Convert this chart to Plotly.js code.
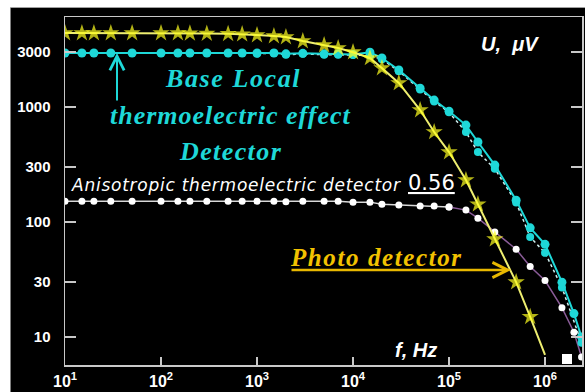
<!DOCTYPE html>
<html>
<head>
<meta charset="utf-8">
<script src="https://cdn.plot.ly/plotly-3.0.1.min.js"></script>
<style>html,body{margin:0;padding:0;background:#fff;}#chart{width:585px;height:392px;}</style>
</head>
<body>
<div id="chart"></div>
<script>
// ---- data ----
const freq = [10,15,20,30,50,100,150,200,300,500,700,1000,1500,2000,3000,5000,7000,1e4,1.5e4,2e4,3e4,5e4,7e4,1e5,1.5e5,2e5,3e5,5e5,7e5,1e6];
const photoU = [4400,4400,4400,4400,4400,4400,4400,4380,4350,4330,4300,4230,4140,4060,3750,3460,3260,3000,2670,2180,1620,942,607,406,232,143,71,30,15,7];

const baseFreq = [10,15,20,30,50,100,150,200,300,500,700,1000,1500,2000,3000,5000,7000,1e4,1.5e4,2e4,3e4,5e4,7e4,1e5,1.5e5,2e5,3e5,5e5,7e5,1e6,1.5e6,2e6,2.4e6];
const baseU = [2950,2950,2950,2950,2950,2950,2950,2950,2950,2950,2950,2950,2950,2900,2930,2900,2900,2870,3000,2670,2100,1460,1150,920,697,497,313,155,89,64,30,16,10];

const base2Freq = [1000,1500,2000,3000,5000,7000,1e4,1.5e4,2e4,3e4,5e4,7e4,1e5,1.5e5,2e5,3e5,5e5,7e5,1e6,1.5e6,2.4e6];
const base2U = [2900,2950,2850,2900,2850,2850,2830,2800,2600,2050,1420,1120,900,606,406,290,148,74,54,27,8.9];

const anisoFreq = [10,15,20,30,50,100,150,200,300,500,700,1000,1500,2000,3000,5000,7000,1e4,1.5e4,2e4,3e4,5e4,7e4,1e5];
const anisoU = [152,152,152,152,152,152,152,152,152,152,152,152,152,150,152,152,152,149,149,143,141,138,138,135];
const anisoTailFreq = [1e5,1.5e5,2e5,3e5,5e5,7e5,1e6,1.5e6,2e6,2.4e6];
const anisoTailU = [135,127,108,82,58,41,31,18,11,6.7];

const xTickVals = [10,100,1000,10000,100000,1000000];
const xTickText = ['10<sup>1</sup>','10<sup>2</sup>','10<sup>3</sup>','10<sup>4</sup>','10<sup>5</sup>','10<sup>6</sup>'];
const yTickVals = [10,30,100,300,1000,3000];
const yTickText = ['10','30','100','300','1000','3000'];

// ---- layout helpers (pixel -> paper) ----
const L = 65, R = 582, T = 17, B = 365;
const px = x => (x - L) / (R - L);
const py = y => (B - y) / (B - T);

const cyan = '#1ed8d8';
const yellow = '#ffff20';
const SANS = "'Liberation Sans', Arial, sans-serif";
const SERIF = "'Liberation Serif', 'Times New Roman', serif";
const DEJAVU = "'DejaVu Sans', Verdana, sans-serif";
const sp = (t, s) => '<span style="letter-spacing:' + s + 'px">' + t + '</span>';

const traces = [
  {x: anisoFreq, y: anisoU, type: 'scatter', mode: 'lines+markers',
   line: {color: '#d8d8d8', width: 1.5}, marker: {symbol: 'circle', size: 7, color: '#ffffff'}},
  {x: anisoTailFreq, y: anisoTailU, type: 'scatter', mode: 'lines+markers',
   line: {color: '#8a5c98', width: 1.5}, marker: {symbol: 'circle', size: 7, color: '#ffffff'}},
  {x: base2Freq, y: base2U, type: 'scatter', mode: 'lines+markers',
   line: {color: '#d0f0f0', width: 1.5, dash: 'dot'}, marker: {symbol: 'circle', size: 8, color: cyan}},
  {x: baseFreq, y: baseU, type: 'scatter', mode: 'lines+markers',
   line: {color: cyan, width: 2}, marker: {symbol: 'circle', size: 9, color: cyan}},
  {x: freq, y: photoU, type: 'scatter', mode: 'lines+markers',
   line: {color: '#eeee70', width: 2},
   marker: {symbol: 'star', size: photoU.map((v, i) => i === photoU.length - 1 ? 0 : 13), color: yellow,
            line: {width: 0}}}
];

const tickFont = {family: SANS, size: 15, color: '#ffffff', weight: 'bold'};
const xTickFont = {family: SANS, size: 16, color: '#ffffff', weight: 'bold'};
const cyanFont = {family: SERIF, size: 26, color: cyan, weight: 'bold', style: 'italic'};

function note(x, y, text, font, xanchor) {
  return {xref: 'paper', yref: 'paper', x: px(x), y: py(y), text: text, showarrow: false,
          xanchor: xanchor || 'center', yanchor: 'middle', font: font};
}

const layout = {
  width: 585, height: 392,
  margin: {l: L, r: 585 - R, t: T, b: 392 - B, pad: 0},
  paper_bgcolor: '#000000', plot_bgcolor: '#000000',
  showlegend: false,
  xaxis: {type: 'log', range: [1, 6.385], showgrid: false, zeroline: false,
          showline: true, linecolor: '#c8c8c8', linewidth: 1.5, mirror: true,
          ticks: 'inside', ticklen: 8, tickwidth: 1.5, tickcolor: '#c8c8c8',
          tickmode: 'array', tickvals: xTickVals, ticktext: xTickText,
          tickfont: xTickFont, ticklabelstandoff: 1},
  yaxis: {type: 'log', range: [0.757, 3.783], showgrid: false, zeroline: false,
          showline: true, linecolor: '#c8c8c8', linewidth: 1.5, mirror: 'ticks',
          ticks: 'inside', ticklen: 11, tickwidth: 1.5, tickcolor: '#c8c8c8',
          tickmode: 'array', tickvals: yTickVals, ticktext: yTickText,
          tickfont: tickFont, ticklabelstandoff: 10},
  shapes: [
    {type: 'rect', xref: 'paper', yref: 'paper', x0: px(-5), x1: px(600), y0: py(7.5), y1: py(-5),
     fillcolor: '#ffffff', line: {width: 0}, layer: 'above'},
    {type: 'rect', xref: 'paper', yref: 'paper', x0: px(-5), x1: px(10.5), y0: py(400), y1: py(-5),
     fillcolor: '#ffffff', line: {width: 0}, layer: 'above'},
    {type: 'line', xref: 'paper', yref: 'paper', x0: px(10.5), x1: px(600), y0: py(7.5), y1: py(7.5),
     line: {color: '#a0a0a0', width: 1}, layer: 'above'},
    {type: 'rect', xref: 'paper', yref: 'paper', x0: px(562), x1: px(572), y0: py(364), y1: py(354),
     fillcolor: '#ffffff', line: {width: 0}, layer: 'above'}
  ],
  annotations: [
    note(510, 44, 'U,  <i>μ</i>V', {family: SANS, size: 20, color: '#ffffff', weight: 'bold', style: 'italic'}),
    note(416, 350, 'f, Hz', {family: SANS, size: 20, color: '#ffffff', weight: 'bold', style: 'italic'}),
    note(233, 78, sp('Base Local', 1.6), cyanFont),
    note(230, 115, sp('thermoelectric effect', 1.0), cyanFont),
    note(230, 151, sp('Detector', 1.4), cyanFont),
    note(69, 185, sp('Anisotropic thermoelectric detector', 0.75), {family: DEJAVU, size: 17, color: '#ffffff', style: 'italic'}, 'left'),
    note(406, 183, '<u>0.56</u>', {family: DEJAVU, size: 21, color: '#ffffff'}, 'left'),
    note(376, 257, sp('Photo detector', 1.6), {family: SERIF, size: 25, color: '#f2c200', weight: 'bold', style: 'italic'}),
    {xref: 'paper', yref: 'paper', x: px(511), y: py(270), text: '', showarrow: true,
     axref: 'pixel', ayref: 'pixel', ax: -221, ay: 0, arrowhead: 5, arrowsize: 1.2, arrowwidth: 2.5, arrowcolor: '#e8b800'},
    {xref: 'paper', yref: 'paper', x: px(117), y: py(53), text: '', showarrow: true,
     axref: 'pixel', ayref: 'pixel', ax: 0, ay: 49, arrowhead: 5, arrowsize: 1.4, arrowwidth: 2, arrowcolor: cyan}
  ]
};

Plotly.newPlot('chart', traces, layout, {displayModeBar: false, staticPlot: true});
</script>
</body>
</html>
